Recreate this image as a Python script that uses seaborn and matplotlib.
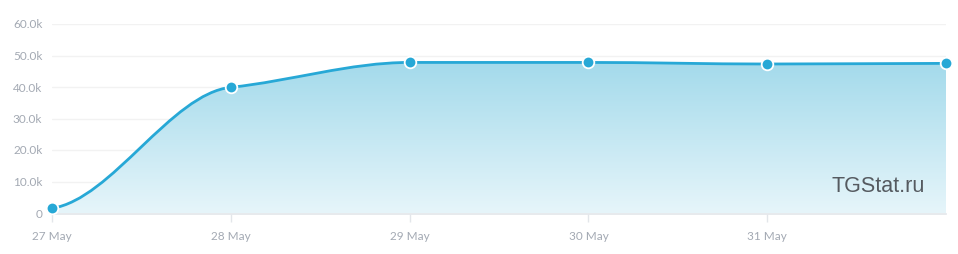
import numpy as np
import matplotlib
matplotlib.use("Agg")
import matplotlib.pyplot as plt
from matplotlib.path import Path
from matplotlib.patches import PathPatch
import seaborn as sns
import pandas as pd

# ---- data ----
days = [0, 1, 2, 3, 4, 5]
values = [1500, 39900, 47800, 47800, 47300, 47500]
tick_days = [0, 1, 2, 3, 4]
tick_labels = ["27 May", "28 May", "29 May", "30 May", "31 May"]
ytick_vals = [0, 10000, 20000, 30000, 40000, 50000, 60000]
ytick_labels = ["0", "10.0k", "20.0k", "30.0k", "40.0k", "50.0k", "60.0k"]

sns.set_theme(style="white")
plt.rcParams['font.family'] = ['Lato', 'DejaVu Sans']

W, H = 958, 254
fig = plt.figure(figsize=(W / 100, H / 100), dpi=100)
L, R, B, T = 52, 946, 213, 24
ax = fig.add_axes([L / W, (H - B) / H, (R - L) / W, (B - T) / H])
ax.set_xlim(0, 5)
ax.set_ylim(0, 60000)

LINE = "#27a8d6"


def smooth_path(xs, ys, tension=0.45, end=0.22):
    xs = np.asarray(xs, float)
    ys = np.asarray(ys, float)
    n = len(xs)
    s = np.diff(ys) / np.diff(xs)
    m = np.zeros(n)
    for i in range(1, n - 1):
        if s[i - 1] * s[i] > 0:
            m[i] = tension * 2 * s[i - 1] * s[i] / (s[i - 1] + s[i])
    m[0] = end * s[0]
    m[-1] = end * s[-1]
    verts = [(xs[0], ys[0])]
    codes = [Path.MOVETO]
    for i in range(n - 1):
        h = xs[i + 1] - xs[i]
        verts += [(xs[i] + h / 3, ys[i] + m[i] * h / 3),
                  (xs[i + 1] - h / 3, ys[i + 1] - m[i + 1] * h / 3),
                  (xs[i + 1], ys[i + 1])]
        codes += [Path.CURVE4] * 3
    return verts, codes


verts, codes = smooth_path(days, values)

# gridlines
for yv in ytick_vals[1:]:
    ax.axhline(yv, color="#f2f2f2", lw=1, zorder=0)

# gradient fill
fverts = verts + [(days[-1], 0), (days[0], 0), (days[0], values[0])]
fcodes = codes + [Path.LINETO, Path.LINETO, Path.CLOSEPOLY]
fill_patch = PathPatch(Path(fverts, fcodes), facecolor="none", edgecolor="none")
ax.add_patch(fill_patch)
top_c = np.array([0xa3, 0xda, 0xeb]) / 255
bot_c = np.array([0xe6, 0xf5, 0xfa]) / 255
n = 256
t = np.linspace(0, 1, n)[:, None]
grad = (top_c * (1 - t) + bot_c * t)[:, None, :]
im = ax.imshow(grad, extent=[0, 5, 0, 48000], aspect="auto", origin="upper", zorder=1)
im.set_clip_path(fill_patch)

# line
line_patch = PathPatch(Path(verts, codes), facecolor="none", edgecolor=LINE, lw=2, zorder=3)
ax.add_patch(line_patch)

df = pd.DataFrame({"day": days, "value": values})
sns.scatterplot(data=df, x="day", y="value", ax=ax, s=70, color=LINE,
                edgecolor="white", linewidth=1.3, zorder=5, clip_on=False)

# axes styling
for s in ["left", "right", "top"]:
    ax.spines[s].set_visible(False)
ax.spines["bottom"].set_color("#e3e6ea")
ax.spines["bottom"].set_linewidth(1.2)
ax.spines["bottom"].set_position(("outward", 1))
ax.set_xticks(tick_days)
ax.set_xticklabels(tick_labels)
ax.set_yticks(ytick_vals)
ax.set_yticklabels(ytick_labels)
ax.tick_params(axis="x", colors="#e3e6ea", length=6, width=1, pad=6, labelsize=8.5,
               labelcolor="#a3a9b3", direction="out", bottom=True)
ax.tick_params(axis="y", length=0, pad=7, labelsize=8.5, labelcolor="#a3a9b3")
ax.set_xlabel("")
ax.set_ylabel("")

fig.text(878 / W, (H - 186) / H, "TGStat.ru", fontsize=15.5, color="#555a60",
         ha="center", va="center", family=["Liberation Sans", "DejaVu Sans"])

fig.savefig("out.png", dpi=100)
